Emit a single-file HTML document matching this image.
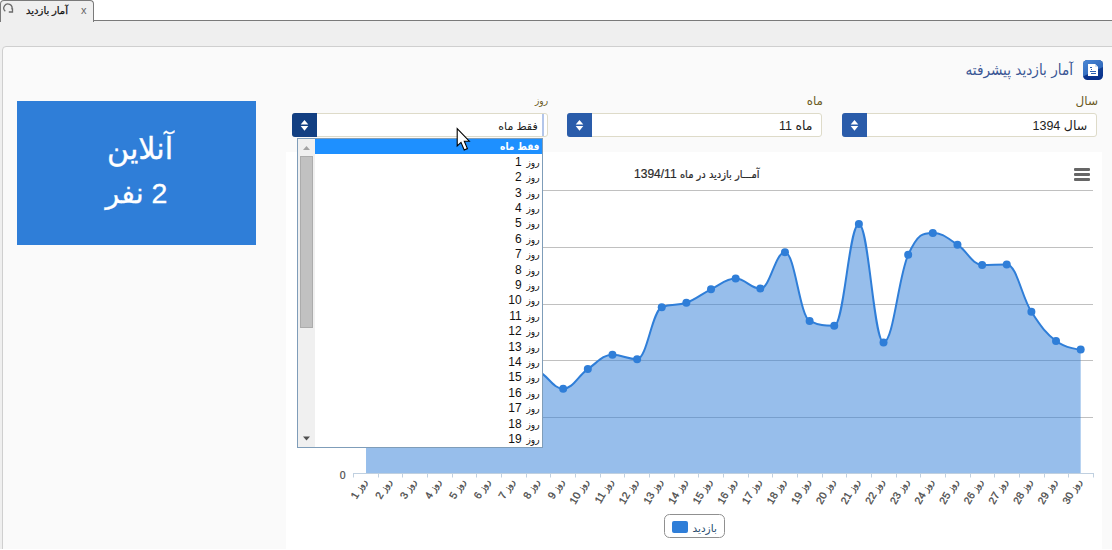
<!DOCTYPE html>
<html lang="fa">
<head>
<meta charset="utf-8">
<title>آمار بازدید</title>
<style>
html,body{margin:0;padding:0;}
body{width:1112px;height:550px;overflow:hidden;position:relative;background:#efefef;
 font-family:"Liberation Sans","DejaVu Sans",sans-serif;font-size:11px;color:#222;}
.abs{position:absolute;}
.topwhite{left:0;top:0;width:1112px;height:20px;background:#fff;}
.topline{left:0;top:20px;width:1112px;height:1px;background:#7a7a7a;}
.tab{left:0;top:0;width:92px;height:21px;background:#efefef;border:1px solid #7a7a7a;border-bottom:none;
 border-radius:4px 4px 0 0;box-sizing:content-box;}
.tab .t{position:absolute;right:25px;top:3px;font-size:10px;line-height:14px;color:#111;-webkit-text-stroke:0.25px #111;direction:rtl;white-space:nowrap;}
.tab .x{position:absolute;left:80px;top:2px;font-size:11px;line-height:14px;color:#666;}
.panel{left:2px;top:46px;width:1130px;height:520px;background:#fafafa;border:1px solid #cfcfcf;border-radius:4px;}
.box{left:17px;top:101px;width:239px;height:143.5px;background:#2f7ed8;color:#fff;text-align:center;direction:rtl;
 font-size:28.5px;line-height:43.3px;-webkit-text-stroke:0.35px #fff;}
.box .in{position:absolute;left:0;right:0;top:26px;}
.title{right:39px;top:58px;font-size:15.15px;line-height:24px;color:#3a5795;font-family:"DejaVu Sans Condensed","DejaVu Sans",sans-serif;direction:rtl;white-space:nowrap;}
.lbl{font-size:12px;line-height:14px;color:#6b5a1e;direction:rtl;white-space:nowrap;top:94px;}
.sel{top:113.2px;height:22.1px;width:253.7px;background:#fff;border:1px solid #dedbc9;border-radius:3px;}
.sel .btn{position:absolute;left:-1px;top:-1px;width:25px;height:24.1px;background:#2a5caa;border-radius:3px 0 0 3px;}
.sel .btn.act{background:#123f82;}
.sel .v{position:absolute;right:9px;top:4.8px;font-size:12.5px;line-height:15px;color:#222;direction:rtl;white-space:nowrap;}
.chartbg{left:286px;top:152px;width:816px;height:398px;background:#fff;}
svg.chart{position:absolute;left:286px;top:152px;}
.xl{font-size:10.5px;fill:#4a4a4a;stroke:#4a4a4a;stroke-width:0.3px;font-family:"Liberation Sans","DejaVu Sans",sans-serif;}
.xl .rz{font-size:9.5px;font-family:"DejaVu Sans Condensed","DejaVu Sans",sans-serif;}
.yl{font-size:10.5px;fill:#4a4a4a;stroke:#4a4a4a;stroke-width:0.2px;font-family:"Liberation Sans","DejaVu Sans",sans-serif;}
.ct{font-size:12px;fill:#2a2a2a;stroke:#2a2a2a;stroke-width:0.2px;font-family:"Liberation Sans","DejaVu Sans",sans-serif;}
.ct .cta{font-size:11px;font-family:"DejaVu Sans Condensed","DejaVu Sans",sans-serif;}
.lg{font-size:10.5px;fill:#274b6d;font-family:"DejaVu Sans",sans-serif;}
.dd{left:297px;top:137.5px;width:243.5px;height:308px;background:#fff;border:1px solid #7f9db9;overflow:hidden;}
.dd .sb{position:absolute;left:0;top:0;width:17px;height:308px;background:#f0f0f0;}
.dd .thumb{position:absolute;left:2px;top:17px;width:11px;height:170px;background:#c1c1c1;border:1px solid #acacac;}
.dd .list{position:absolute;left:17px;right:0;top:0;}
.opt{height:15.4px;line-height:17px;font-size:12px;direction:rtl;padding-right:2px;color:#111;white-space:nowrap;}
.opt .rz{margin-left:1.5px;font-size:10px;font-family:"DejaVu Sans Condensed","DejaVu Sans",sans-serif;}
.opt.sel{background:#1e90ff;color:#fff;font:bold 10px/16.4px "DejaVu Sans Condensed","DejaVu Sans",sans-serif;border:none;position:static;width:auto;border-radius:0;}
</style>
</head>
<body>
<div class="abs topwhite"></div>
<div class="abs topline"></div>
<div class="abs tab">
  <svg class="abs" style="left:-1px;top:-1px" width="16" height="16" viewBox="0 0 16 16"><path d="M5.3 11.2 A4.1 4.1 0 1 1 11.8 9.4" fill="none" stroke="#6a6a6a" stroke-width="1.3"/><path d="M8.8 12 H12.5 V8.2" fill="none" stroke="#6a6a6a" stroke-width="1.3"/></svg>
  <span class="t">آمار بازدید</span><span class="x">x</span>
</div>
<div class="abs panel"></div>
<div class="abs box"><div class="in"><div style="font-size:30.2px;padding-left:7px">آنلاین</div><div style="position:relative;top:1.5px">2 نفر</div></div></div>

<svg class="abs" style="left:1083px;top:60px" width="20" height="20" viewBox="0 0 20 20">
  <defs>
    <linearGradient id="ig1" x1="0" y1="0" x2="0.8" y2="1"><stop offset="0" stop-color="#4b88d6"/><stop offset="1" stop-color="#275fb3"/></linearGradient>
    <linearGradient id="ig2" x1="0" y1="0" x2="0" y2="1"><stop offset="0" stop-color="#17479b"/><stop offset="1" stop-color="#08308a"/></linearGradient>
    <clipPath id="ic"><rect x="0" y="0" width="20" height="20" rx="4.5"/></clipPath>
  </defs>
  <g clip-path="url(#ic)">
    <rect x="0" y="0" width="20" height="20" fill="url(#ig2)"/>
    <path d="M0 0 H20 V7 L0 16.5 Z" fill="url(#ig1)"/>
  </g>
  <path d="M5 4 H12 L15 7 V16 H5 Z" fill="#fff"/>
  <path d="M12 4 V7 H15 Z" fill="#cfe0f5"/>
  <path d="M7 7.5 H9 M8 9.5 H9 M7 11.5 H13 M8 13.5 H13" stroke="#2d62b4" stroke-width="1"/>
</svg>
<div class="abs title">آمار بازدید پیشرفته</div>

<div class="abs lbl" style="right:14px">سال</div>
<div class="abs lbl" style="right:289px">ماه</div>
<div class="abs lbl" style="right:564px;font-size:10px;font-family:'DejaVu Sans Condensed','DejaVu Sans',sans-serif">روز</div>

<div class="abs sel" style="left:841.5px"><div class="btn"><svg width="26" height="24" viewBox="0 0 26 24"><path d="M12.5 7 L16.3 11.4 H8.7 Z M12.5 17.8 L16.3 13 H8.7 Z" fill="#fff"/></svg></div><div class="v"><span class="ar">سال</span> 1394</div></div>
<div class="abs sel" style="left:566.8px"><div class="btn"><svg width="26" height="24" viewBox="0 0 26 24"><path d="M12.5 7 L16.3 11.4 H8.7 Z M12.5 17.8 L16.3 13 H8.7 Z" fill="#fff"/></svg></div><div class="v"><span class="ar">ماه</span> 11</div></div>
<div class="abs sel" style="left:292px"><div class="btn act"><svg width="26" height="24" viewBox="0 0 26 24"><path d="M12.5 7 L16.3 11.4 H8.7 Z M12.5 17.8 L16.3 13 H8.7 Z" fill="#fff"/></svg></div><div class="v" style="font-size:11px">فقط ماه</div><div style="position:absolute;left:249px;top:0;width:2px;height:22.1px;background:#b3c6ea"></div></div>

<div class="abs chartbg"></div>
<svg class="chart" width="816" height="398" viewBox="286 152 816 398">
<path d="M 353.0 190.5 L 1093.0 190.5" stroke="#c0c0c0" stroke-width="1" fill="none"/>
<path d="M 353.0 247.5 L 1093.0 247.5" stroke="#c0c0c0" stroke-width="1" fill="none"/>
<path d="M 353.0 304.5 L 1093.0 304.5" stroke="#c0c0c0" stroke-width="1" fill="none"/>
<path d="M 353.0 360.5 L 1093.0 360.5" stroke="#c0c0c0" stroke-width="1" fill="none"/>
<path d="M 353.0 417.5 L 1093.0 417.5" stroke="#c0c0c0" stroke-width="1" fill="none"/>
<path d="M 366.02 380.00 C 366.02 380.00 380.81 392.00 390.66 392.00 C 400.52 392.00 405.45 371.00 415.31 371.00 C 425.17 371.00 430.09 384.00 439.95 384.00 C 449.81 384.00 454.74 366.00 464.59 366.00 C 474.45 366.00 479.38 377.00 489.24 377.00 C 499.10 377.00 504.02 362.00 513.88 362.00 C 523.74 362.00 528.67 365.66 538.52 371.00 C 548.38 376.34 553.31 388.70 563.17 388.70 C 573.03 388.70 577.95 375.88 587.81 369.10 C 597.67 362.32 602.60 354.80 612.45 354.80 C 622.31 354.80 627.24 359.20 637.10 359.20 C 646.96 359.20 651.88 311.60 661.74 307.20 C 671.60 302.80 676.53 306.38 686.38 302.80 C 696.24 299.22 701.17 294.14 711.03 289.30 C 720.89 284.46 725.81 278.60 735.67 278.60 C 745.53 278.60 750.46 288.60 760.31 288.60 C 770.17 288.60 775.10 252.20 784.96 252.20 C 794.82 252.20 799.74 316.10 809.60 320.90 C 819.46 325.70 824.39 325.70 834.24 325.70 C 844.10 325.70 849.03 224.00 858.89 224.00 C 868.75 224.00 873.67 342.40 883.53 342.40 C 893.39 342.40 898.32 276.60 908.17 254.80 C 918.03 233.00 922.96 233.00 932.82 233.00 C 942.68 233.00 947.60 238.32 957.46 244.70 C 967.32 251.08 972.25 264.90 982.11 264.90 C 991.96 264.90 996.89 264.40 1006.75 264.40 C 1016.61 264.40 1021.53 296.48 1031.39 311.80 C 1041.25 327.12 1046.18 333.44 1056.03 341.00 C 1065.89 348.56 1080.68 349.60 1080.68 349.60 L 1080.68 473.50 L 366.02 473.50 Z" fill="#2f7ed8" fill-opacity="0.5"/>
<path d="M 366.02 380.00 C 366.02 380.00 380.81 392.00 390.66 392.00 C 400.52 392.00 405.45 371.00 415.31 371.00 C 425.17 371.00 430.09 384.00 439.95 384.00 C 449.81 384.00 454.74 366.00 464.59 366.00 C 474.45 366.00 479.38 377.00 489.24 377.00 C 499.10 377.00 504.02 362.00 513.88 362.00 C 523.74 362.00 528.67 365.66 538.52 371.00 C 548.38 376.34 553.31 388.70 563.17 388.70 C 573.03 388.70 577.95 375.88 587.81 369.10 C 597.67 362.32 602.60 354.80 612.45 354.80 C 622.31 354.80 627.24 359.20 637.10 359.20 C 646.96 359.20 651.88 311.60 661.74 307.20 C 671.60 302.80 676.53 306.38 686.38 302.80 C 696.24 299.22 701.17 294.14 711.03 289.30 C 720.89 284.46 725.81 278.60 735.67 278.60 C 745.53 278.60 750.46 288.60 760.31 288.60 C 770.17 288.60 775.10 252.20 784.96 252.20 C 794.82 252.20 799.74 316.10 809.60 320.90 C 819.46 325.70 824.39 325.70 834.24 325.70 C 844.10 325.70 849.03 224.00 858.89 224.00 C 868.75 224.00 873.67 342.40 883.53 342.40 C 893.39 342.40 898.32 276.60 908.17 254.80 C 918.03 233.00 922.96 233.00 932.82 233.00 C 942.68 233.00 947.60 238.32 957.46 244.70 C 967.32 251.08 972.25 264.90 982.11 264.90 C 991.96 264.90 996.89 264.40 1006.75 264.40 C 1016.61 264.40 1021.53 296.48 1031.39 311.80 C 1041.25 327.12 1046.18 333.44 1056.03 341.00 C 1065.89 348.56 1080.68 349.60 1080.68 349.60" fill="none" stroke="#2f7ed8" stroke-width="2" stroke-linejoin="round" stroke-linecap="round"/>
<circle cx="366.02" cy="380.00" r="4" fill="#2f7ed8"/>
<circle cx="390.66" cy="392.00" r="4" fill="#2f7ed8"/>
<circle cx="415.31" cy="371.00" r="4" fill="#2f7ed8"/>
<circle cx="439.95" cy="384.00" r="4" fill="#2f7ed8"/>
<circle cx="464.59" cy="366.00" r="4" fill="#2f7ed8"/>
<circle cx="489.24" cy="377.00" r="4" fill="#2f7ed8"/>
<circle cx="513.88" cy="362.00" r="4" fill="#2f7ed8"/>
<circle cx="538.52" cy="371.00" r="4" fill="#2f7ed8"/>
<circle cx="563.17" cy="388.70" r="4" fill="#2f7ed8"/>
<circle cx="587.81" cy="369.10" r="4" fill="#2f7ed8"/>
<circle cx="612.45" cy="354.80" r="4" fill="#2f7ed8"/>
<circle cx="637.10" cy="359.20" r="4" fill="#2f7ed8"/>
<circle cx="661.74" cy="307.20" r="4" fill="#2f7ed8"/>
<circle cx="686.38" cy="302.80" r="4" fill="#2f7ed8"/>
<circle cx="711.03" cy="289.30" r="4" fill="#2f7ed8"/>
<circle cx="735.67" cy="278.60" r="4" fill="#2f7ed8"/>
<circle cx="760.31" cy="288.60" r="4" fill="#2f7ed8"/>
<circle cx="784.96" cy="252.20" r="4" fill="#2f7ed8"/>
<circle cx="809.60" cy="320.90" r="4" fill="#2f7ed8"/>
<circle cx="834.24" cy="325.70" r="4" fill="#2f7ed8"/>
<circle cx="858.89" cy="224.00" r="4" fill="#2f7ed8"/>
<circle cx="883.53" cy="342.40" r="4" fill="#2f7ed8"/>
<circle cx="908.17" cy="254.80" r="4" fill="#2f7ed8"/>
<circle cx="932.82" cy="233.00" r="4" fill="#2f7ed8"/>
<circle cx="957.46" cy="244.70" r="4" fill="#2f7ed8"/>
<circle cx="982.11" cy="264.90" r="4" fill="#2f7ed8"/>
<circle cx="1006.75" cy="264.40" r="4" fill="#2f7ed8"/>
<circle cx="1031.39" cy="311.80" r="4" fill="#2f7ed8"/>
<circle cx="1056.03" cy="341.00" r="4" fill="#2f7ed8"/>
<circle cx="1080.68" cy="349.60" r="4" fill="#2f7ed8"/>
<path d="M 353.0 473.5 L 1094.0 473.5" stroke="#c0d0e0" stroke-width="1" fill="none"/>
<path d="M 353.5 473.5 L 353.5 477.5" stroke="#c0d0e0" stroke-width="1"/>
<path d="M 378.5 473.5 L 378.5 477.5" stroke="#c0d0e0" stroke-width="1"/>
<path d="M 402.5 473.5 L 402.5 477.5" stroke="#c0d0e0" stroke-width="1"/>
<path d="M 427.5 473.5 L 427.5 477.5" stroke="#c0d0e0" stroke-width="1"/>
<path d="M 452.5 473.5 L 452.5 477.5" stroke="#c0d0e0" stroke-width="1"/>
<path d="M 476.5 473.5 L 476.5 477.5" stroke="#c0d0e0" stroke-width="1"/>
<path d="M 501.5 473.5 L 501.5 477.5" stroke="#c0d0e0" stroke-width="1"/>
<path d="M 526.5 473.5 L 526.5 477.5" stroke="#c0d0e0" stroke-width="1"/>
<path d="M 550.5 473.5 L 550.5 477.5" stroke="#c0d0e0" stroke-width="1"/>
<path d="M 575.5 473.5 L 575.5 477.5" stroke="#c0d0e0" stroke-width="1"/>
<path d="M 600.5 473.5 L 600.5 477.5" stroke="#c0d0e0" stroke-width="1"/>
<path d="M 624.5 473.5 L 624.5 477.5" stroke="#c0d0e0" stroke-width="1"/>
<path d="M 649.5 473.5 L 649.5 477.5" stroke="#c0d0e0" stroke-width="1"/>
<path d="M 674.5 473.5 L 674.5 477.5" stroke="#c0d0e0" stroke-width="1"/>
<path d="M 698.5 473.5 L 698.5 477.5" stroke="#c0d0e0" stroke-width="1"/>
<path d="M 723.5 473.5 L 723.5 477.5" stroke="#c0d0e0" stroke-width="1"/>
<path d="M 748.5 473.5 L 748.5 477.5" stroke="#c0d0e0" stroke-width="1"/>
<path d="M 772.5 473.5 L 772.5 477.5" stroke="#c0d0e0" stroke-width="1"/>
<path d="M 797.5 473.5 L 797.5 477.5" stroke="#c0d0e0" stroke-width="1"/>
<path d="M 822.5 473.5 L 822.5 477.5" stroke="#c0d0e0" stroke-width="1"/>
<path d="M 846.5 473.5 L 846.5 477.5" stroke="#c0d0e0" stroke-width="1"/>
<path d="M 871.5 473.5 L 871.5 477.5" stroke="#c0d0e0" stroke-width="1"/>
<path d="M 896.5 473.5 L 896.5 477.5" stroke="#c0d0e0" stroke-width="1"/>
<path d="M 920.5 473.5 L 920.5 477.5" stroke="#c0d0e0" stroke-width="1"/>
<path d="M 945.5 473.5 L 945.5 477.5" stroke="#c0d0e0" stroke-width="1"/>
<path d="M 970.5 473.5 L 970.5 477.5" stroke="#c0d0e0" stroke-width="1"/>
<path d="M 994.5 473.5 L 994.5 477.5" stroke="#c0d0e0" stroke-width="1"/>
<path d="M 1019.5 473.5 L 1019.5 477.5" stroke="#c0d0e0" stroke-width="1"/>
<path d="M 1044.5 473.5 L 1044.5 477.5" stroke="#c0d0e0" stroke-width="1"/>
<path d="M 1068.5 473.5 L 1068.5 477.5" stroke="#c0d0e0" stroke-width="1"/>
<path d="M 1093.5 473.5 L 1093.5 477.5" stroke="#c0d0e0" stroke-width="1"/>
<text x="367.0" y="481.5" text-anchor="end" transform="rotate(-60 367.0 481.5)" class="xl"><tspan class="rz">روز</tspan> 1</text>
<text x="391.7" y="481.5" text-anchor="end" transform="rotate(-60 391.7 481.5)" class="xl"><tspan class="rz">روز</tspan> 2</text>
<text x="416.3" y="481.5" text-anchor="end" transform="rotate(-60 416.3 481.5)" class="xl"><tspan class="rz">روز</tspan> 3</text>
<text x="441.0" y="481.5" text-anchor="end" transform="rotate(-60 441.0 481.5)" class="xl"><tspan class="rz">روز</tspan> 4</text>
<text x="465.6" y="481.5" text-anchor="end" transform="rotate(-60 465.6 481.5)" class="xl"><tspan class="rz">روز</tspan> 5</text>
<text x="490.2" y="481.5" text-anchor="end" transform="rotate(-60 490.2 481.5)" class="xl"><tspan class="rz">روز</tspan> 6</text>
<text x="514.9" y="481.5" text-anchor="end" transform="rotate(-60 514.9 481.5)" class="xl"><tspan class="rz">روز</tspan> 7</text>
<text x="539.5" y="481.5" text-anchor="end" transform="rotate(-60 539.5 481.5)" class="xl"><tspan class="rz">روز</tspan> 8</text>
<text x="564.2" y="481.5" text-anchor="end" transform="rotate(-60 564.2 481.5)" class="xl"><tspan class="rz">روز</tspan> 9</text>
<text x="588.8" y="481.5" text-anchor="end" transform="rotate(-60 588.8 481.5)" class="xl"><tspan class="rz">روز</tspan> 10</text>
<text x="613.5" y="481.5" text-anchor="end" transform="rotate(-60 613.5 481.5)" class="xl"><tspan class="rz">روز</tspan> 11</text>
<text x="638.1" y="481.5" text-anchor="end" transform="rotate(-60 638.1 481.5)" class="xl"><tspan class="rz">روز</tspan> 12</text>
<text x="662.7" y="481.5" text-anchor="end" transform="rotate(-60 662.7 481.5)" class="xl"><tspan class="rz">روز</tspan> 13</text>
<text x="687.4" y="481.5" text-anchor="end" transform="rotate(-60 687.4 481.5)" class="xl"><tspan class="rz">روز</tspan> 14</text>
<text x="712.0" y="481.5" text-anchor="end" transform="rotate(-60 712.0 481.5)" class="xl"><tspan class="rz">روز</tspan> 15</text>
<text x="736.7" y="481.5" text-anchor="end" transform="rotate(-60 736.7 481.5)" class="xl"><tspan class="rz">روز</tspan> 16</text>
<text x="761.3" y="481.5" text-anchor="end" transform="rotate(-60 761.3 481.5)" class="xl"><tspan class="rz">روز</tspan> 17</text>
<text x="786.0" y="481.5" text-anchor="end" transform="rotate(-60 786.0 481.5)" class="xl"><tspan class="rz">روز</tspan> 18</text>
<text x="810.6" y="481.5" text-anchor="end" transform="rotate(-60 810.6 481.5)" class="xl"><tspan class="rz">روز</tspan> 19</text>
<text x="835.2" y="481.5" text-anchor="end" transform="rotate(-60 835.2 481.5)" class="xl"><tspan class="rz">روز</tspan> 20</text>
<text x="859.9" y="481.5" text-anchor="end" transform="rotate(-60 859.9 481.5)" class="xl"><tspan class="rz">روز</tspan> 21</text>
<text x="884.5" y="481.5" text-anchor="end" transform="rotate(-60 884.5 481.5)" class="xl"><tspan class="rz">روز</tspan> 22</text>
<text x="909.2" y="481.5" text-anchor="end" transform="rotate(-60 909.2 481.5)" class="xl"><tspan class="rz">روز</tspan> 23</text>
<text x="933.8" y="481.5" text-anchor="end" transform="rotate(-60 933.8 481.5)" class="xl"><tspan class="rz">روز</tspan> 24</text>
<text x="958.5" y="481.5" text-anchor="end" transform="rotate(-60 958.5 481.5)" class="xl"><tspan class="rz">روز</tspan> 25</text>
<text x="983.1" y="481.5" text-anchor="end" transform="rotate(-60 983.1 481.5)" class="xl"><tspan class="rz">روز</tspan> 26</text>
<text x="1007.7" y="481.5" text-anchor="end" transform="rotate(-60 1007.7 481.5)" class="xl"><tspan class="rz">روز</tspan> 27</text>
<text x="1032.4" y="481.5" text-anchor="end" transform="rotate(-60 1032.4 481.5)" class="xl"><tspan class="rz">روز</tspan> 28</text>
<text x="1057.0" y="481.5" text-anchor="end" transform="rotate(-60 1057.0 481.5)" class="xl"><tspan class="rz">روز</tspan> 29</text>
<text x="1081.7" y="481.5" text-anchor="end" transform="rotate(-60 1081.7 481.5)" class="xl"><tspan class="rz">روز</tspan> 30</text>
<text x="345.5" y="478.7" text-anchor="end" class="yl">0</text>
<text x="759.5" y="178" text-anchor="start" direction="rtl" class="ct"><tspan class="cta">آمـــار بازدید در ماه</tspan> 1394/11</text>
<rect x="1074" y="168.0" width="16" height="3" rx="1" fill="#666"/>
<rect x="1074" y="173.0" width="16" height="3" rx="1" fill="#666"/>
<rect x="1074" y="178.0" width="16" height="3" rx="1" fill="#666"/>
<rect x="664.5" y="514.5" width="60" height="23" rx="5" fill="#fff" stroke="#909090"/>
<rect x="672" y="521" width="16" height="12" rx="2" fill="#2f7ed8"/>
<text x="692.5" y="532" class="lg">بازدید</text>
</svg>

<div class="abs dd">
  <div class="sb">
    <svg class="abs" style="left:0;top:0" width="17" height="308" viewBox="0 0 17 308"><path d="M8.5 7 L12 11 H5 Z" fill="#a3a3a3"/><path d="M8.5 301.5 L12 297.5 H5 Z" fill="#505050"/></svg>
    <div class="thumb"></div>
  </div>
  <div class="list">
<div class="opt sel">فقط ماه</div>
<div class="opt"><span class="rz">روز</span> 1</div>
<div class="opt"><span class="rz">روز</span> 2</div>
<div class="opt"><span class="rz">روز</span> 3</div>
<div class="opt"><span class="rz">روز</span> 4</div>
<div class="opt"><span class="rz">روز</span> 5</div>
<div class="opt"><span class="rz">روز</span> 6</div>
<div class="opt"><span class="rz">روز</span> 7</div>
<div class="opt"><span class="rz">روز</span> 8</div>
<div class="opt"><span class="rz">روز</span> 9</div>
<div class="opt"><span class="rz">روز</span> 10</div>
<div class="opt"><span class="rz">روز</span> 11</div>
<div class="opt"><span class="rz">روز</span> 12</div>
<div class="opt"><span class="rz">روز</span> 13</div>
<div class="opt"><span class="rz">روز</span> 14</div>
<div class="opt"><span class="rz">روز</span> 15</div>
<div class="opt"><span class="rz">روز</span> 16</div>
<div class="opt"><span class="rz">روز</span> 17</div>
<div class="opt"><span class="rz">روز</span> 18</div>
<div class="opt"><span class="rz">روز</span> 19</div>
  </div>
</div>

<div class="abs" style="left:0;top:548.7px;width:1112px;height:2px;background:#fff"></div>
<svg class="abs" style="left:450px;top:120px" width="30" height="40" viewBox="450 120 30 40"><path d="M457.2 128.6 L457.2 146 L461 142.4 L464.2 150 L467.4 148.6 L464.3 141.2 L469.3 141.2 Z" fill="#fff" stroke="#000" stroke-width="1.1" stroke-linejoin="miter"/></svg>
</body>
</html>
